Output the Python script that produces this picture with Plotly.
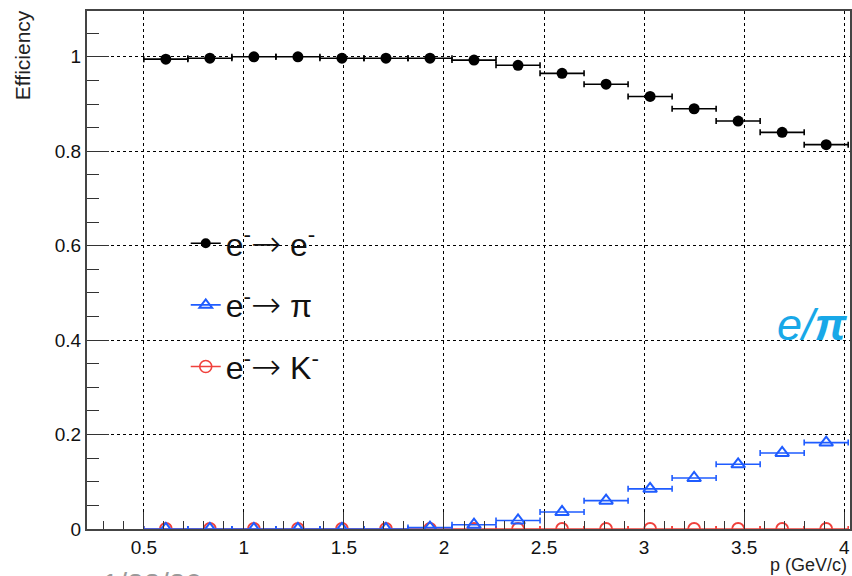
import plotly.graph_objects as go

# ---------------- data ----------------
p_centers = [0.61, 0.83, 1.05, 1.27, 1.49, 1.71, 1.93, 2.15,
             2.37, 2.59, 2.81, 3.03, 3.25, 3.47, 3.69, 3.91]
p_halfwidth = [0.11] * 16

eff_e_to_e = [0.995, 0.997, 1.000, 1.000, 0.997, 0.997, 0.997, 0.993,
              0.982, 0.965, 0.942, 0.916, 0.890, 0.864, 0.840, 0.814]
eff_e_to_pi = [0.000, 0.000, 0.000, 0.000, 0.000, 0.000, 0.003, 0.009,
               0.018, 0.036, 0.060, 0.085, 0.108, 0.137, 0.161, 0.183]
eff_e_to_K = [0.0] * 16

ARROW = '<span style="font-family:DejaVu Sans;font-size:36px;font-weight:200">\u2192</span>'
legend_labels = ["e<sup>-</sup>" + ARROW + " e<sup>-</sup>",
                 "e<sup>-</sup>" + ARROW + " \u03c0",
                 "e<sup>-</sup>" + ARROW + " K<sup>-</sup>"]

x_ticks = [0.5, 1, 1.5, 2, 2.5, 3, 3.5, 4]
y_ticks = [0, 0.2, 0.4, 0.6, 0.8, 1]

BLACK = "#000000"
BLUE = "#1f5cff"
RED = "#f0413c"

fig = go.Figure()

def err(color):
    return dict(type="data", array=p_halfwidth, symmetric=True,
                color=color, thickness=1.6, width=3)

# real data traces (drawn: black, red, blue so blue sits on red)
fig.add_trace(go.Scatter(x=p_centers, y=eff_e_to_e, mode="markers",
                         marker=dict(symbol="circle", size=11, color=BLACK),
                         error_x=err(BLACK), showlegend=False))
fig.add_trace(go.Scatter(x=p_centers, y=eff_e_to_K, mode="markers",
                         marker=dict(symbol="circle-open", size=12, color=RED,
                                     line=dict(width=1.8, color=RED)),
                         error_x=err(RED), showlegend=False))
fig.add_trace(go.Scatter(x=p_centers, y=eff_e_to_pi, mode="markers",
                         marker=dict(symbol="triangle-up-open", size=12, color=BLUE,
                                     line=dict(width=2, color=BLUE)),
                         error_x=err(BLUE), showlegend=False))

# legend entries (line + marker, like ROOT "lep")
leg_styles = [
    (BLACK, dict(symbol="circle", size=10, color=BLACK)),
    (BLUE, dict(symbol="triangle-up-open", size=11, color=BLUE, line=dict(width=2, color=BLUE))),
    (RED, dict(symbol="circle-open", size=12, color=RED, line=dict(width=1.6, color=RED))),
]
for i, (lab, (col, mk)) in enumerate(zip(legend_labels, leg_styles)):
    fig.add_trace(go.Scatter(x=[None], y=[None], mode="lines+markers", name=lab,
                             line=dict(color=col, width=1.6), marker=mk,
                             legendgroup=f"g{i}", showlegend=True))

L, R, T, B = 87, 0, 11, 47
W, H = 852, 576
pw, ph = W - L - R, H - T - B

def px(xp):
    return (xp - L) / pw

def py(yp):
    return (H - B - yp) / ph

fig.update_layout(
    width=W, height=H,
    margin=dict(l=L, r=R, t=T, b=B, pad=0),
    paper_bgcolor="white", plot_bgcolor="white",
    font=dict(family="Liberation Sans, Arial, sans-serif", color="#111"),
    showlegend=True,
    legend=dict(x=px(186), y=py(216), xanchor="left", yanchor="top",
                bgcolor="rgba(0,0,0,0)", borderwidth=0,
                font=dict(size=32, color="#111"),
                traceorder="grouped", tracegroupgap=17,
                itemwidth=30),
    xaxis=dict(range=[0.216, 4.029], tickvals=x_ticks,
               ticktext=[f"{v:g}" for v in x_ticks],
               ticks="inside", ticklen=17, tickwidth=1, tickcolor="#333",
               minor=dict(dtick=0.1, tick0=0, ticks="inside", ticklen=8,
                          tickcolor="#333", showgrid=False),
               showgrid=True, gridcolor="#000", griddash="dot", gridwidth=1,
               zeroline=False, showline=True, linecolor="#444", linewidth=2,
               mirror=True, tickfont=dict(size=19, color="#111")),
    yaxis=dict(range=[0, 1.097], tickvals=y_ticks,
               ticktext=[f"{v:g}" for v in y_ticks],
               ticks="inside", ticklen=22, tickwidth=1, tickcolor="#333",
               minor=dict(dtick=0.05, tick0=0, ticks="inside", ticklen=12,
                          tickcolor="#333", showgrid=False),
               showgrid=True, gridcolor="#000", griddash="dot", gridwidth=1,
               zeroline=False, showline=True, linecolor="#444", linewidth=2,
               mirror=True, tickfont=dict(size=19, color="#111")),
    shapes=[dict(type="rect", xref="paper", yref="paper",
                 x0=px(182), x1=px(373), y0=py(398), y1=py(210),
                 fillcolor="white", line=dict(width=0), layer="between")],
    annotations=[
        dict(text="Efficiency", xref="paper", yref="paper",
             x=px(23), y=py(8), xanchor="center", yanchor="top",
             textangle=-90, showarrow=False,
             font=dict(size=21, color="#222")),
        dict(text="p (GeV/c)", xref="paper", yref="paper",
             x=px(851), y=py(577), xanchor="right", yanchor="bottom",
             showarrow=False, font=dict(size=18, color="#222")),
        dict(text="<i>e/</i><b><i>\u03c0</i></b>", xref="paper", yref="paper",
             x=px(852), y=py(352), xanchor="right", yanchor="bottom",
             showarrow=False, font=dict(size=45, color="#18a8e8")),
        dict(text="1/22/20", xref="paper", yref="paper",
             x=px(100), y=py(565), xanchor="left", yanchor="top",
             showarrow=False, font=dict(size=30, color="#9a9a9a")),
    ],
)

fig.write_html("out.html", config={"displayModeBar": False},
               post_script="document.body.style.margin='0';document.body.style.overflow='hidden';")
